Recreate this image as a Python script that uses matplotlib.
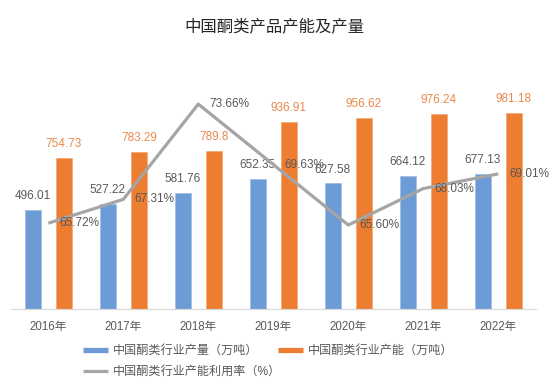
import numpy as np
import matplotlib.pyplot as plt
from matplotlib.lines import Line2D

plt.rcParams['font.family'] = ['Liberation Sans', 'Noto Sans CJK SC']

years = ["2016年", "2017年", "2018年", "2019年", "2020年", "2021年", "2022年"]
production = [496.01, 527.22, 581.76, 652.35, 627.58, 664.12, 677.13]
capacity = [754.73, 783.29, 789.8, 936.91, 956.62, 976.24, 981.18]
utilization = [65.72, 67.31, 73.66, 69.63, 65.60, 68.03, 69.01]

blue = '#6C9BD5'
orange = '#ED7D31'
gray = '#A5A5A5'
txt = '#595959'

fig = plt.figure(figsize=(5.52, 3.89), dpi=100)
ax = fig.add_axes([10.8 / 552, 1 - 309 / 389, 525 / 552, 240 / 389])
ax2 = ax.twinx()

x = np.arange(len(years))
w = 0.21
ax.bar(x - 0.207, production, w, color=blue, edgecolor='#9DBDE6', linewidth=0.5)
ax.bar(x + 0.207, capacity, w, color=orange, edgecolor='#F4A672', linewidth=0.5)
ax.set_ylim(0, 1200)
ax.set_xlim(-0.5, 6.5)

for xi, v in zip(x, production):
    ax.annotate(f"{v:.2f}", (xi - 0.207, v), xytext=(0, 10), textcoords='offset points',
                ha='center', va='center', fontsize=8.5, color=txt)
for xi, v in zip(x, capacity):
    ax.annotate(f"{v:g}", (xi + 0.207, v), xytext=(0, 10), textcoords='offset points',
                ha='center', va='center', fontsize=8.5, color='#E8894B')

ax2.plot(x, utilization, color=gray, lw=2.3, solid_capstyle='butt')
ax2.set_ylim(60, 76)
for xi, v in zip(x, utilization):
    ax2.annotate(f"{v:.2f}%", (xi, v), xytext=(8, 0), textcoords='offset points',
                 ha='left', va='center', fontsize=8.5, color=txt)

ax.set_xticks(x, years)
ax.tick_params(axis='x', length=0, pad=8.5, labelsize=8.3, labelcolor=txt)
ax.set_yticks([])
ax2.set_yticks([])
for a in (ax, ax2):
    for s in ('top', 'left', 'right'):
        a.spines[s].set_visible(False)
    a.spines['bottom'].set_color('#D9D9D9')
    a.spines['bottom'].set_linewidth(0.8)

fig.text(274 / 552, 1 - 26 / 389, "中国酮类产品产能及产量", ha='center', va='center',
         fontsize=11.8, color='#262626')

# legend: two columns placed separately
h_prod = Line2D([], [], color=blue, lw=3.8, solid_capstyle='butt')
h_util = Line2D([], [], color=gray, lw=2.3, solid_capstyle='butt')
h_cap = Line2D([], [], color=orange, lw=3.8, solid_capstyle='butt')
leg_kw = dict(loc='upper left', frameon=False, fontsize=8.7, labelcolor=txt, borderpad=0,
              borderaxespad=0, handlelength=2.1, handletextpad=0.35, labelspacing=0.75)
fig.legend([h_prod, h_util], ["中国酮类行业产量（万吨）", "中国酮类行业产能利用率（%）"],
           bbox_to_anchor=(83 / 552, 1 - 345 / 389), **leg_kw)
fig.legend([h_cap], ["中国酮类行业产能（万吨）"],
           bbox_to_anchor=(278 / 552, 1 - 345 / 389), **leg_kw)

fig.savefig("out.png", dpi=100)
